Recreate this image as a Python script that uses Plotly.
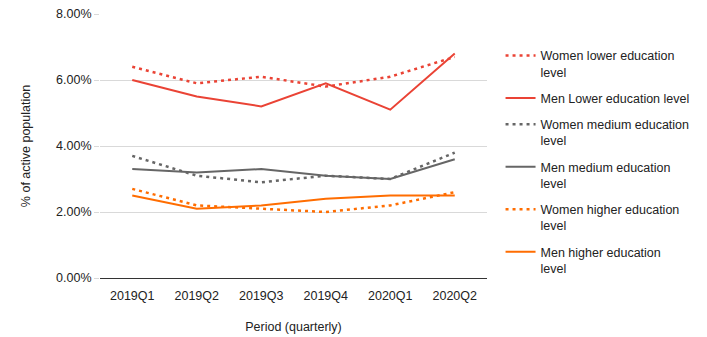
import plotly.graph_objects as go

categories = ["2019Q1", "2019Q2", "2019Q3", "2019Q4", "2020Q1", "2020Q2"]
women_lower = [6.4, 5.9, 6.1, 5.8, 6.1, 6.7]
men_lower = [6.0, 5.5, 5.2, 5.9, 5.1, 6.8]
women_medium = [3.7, 3.1, 2.9, 3.1, 3.0, 3.8]
men_medium = [3.3, 3.2, 3.3, 3.1, 3.0, 3.6]
women_higher = [2.7, 2.2, 2.1, 2.0, 2.2, 2.6]
men_higher = [2.5, 2.1, 2.2, 2.4, 2.5, 2.5]

names = [
    "Women lower education<br>level",
    "Men Lower education level",
    "Women medium education<br>level",
    "Men medium education<br>level",
    "Women higher education<br>level",
    "Men higher education<br>level",
]
series = [women_lower, men_lower, women_medium, men_medium, women_higher, men_higher]
colors = ["#EA4335", "#EA4335", "#666666", "#666666", "#FF6D01", "#FF6D01"]
dashes = ["3px,4px", "solid", "3px,4px", "solid", "3px,4px", "solid"]

fig = go.Figure()
for i, (n, s, c, d) in enumerate(zip(names, series, colors, dashes)):
    fig.add_trace(go.Scatter(
        x=categories, y=[v / 100 for v in s], name=n, mode="lines",
        legendgroup=f"g{i}",
        line=dict(color=c, width=2.5 if d != "solid" else 2, dash=d),
    ))

fig.update_layout(
    width=707, height=337,
    margin=dict(l=100, r=205, t=14, b=59),
    paper_bgcolor="white", plot_bgcolor="white",
    font=dict(family="Liberation Sans, Arial, sans-serif", size=12.5, color="#222222"),
    legend=dict(x=1.035, y=0.898, xanchor="left", yanchor="top", valign="top",
                font=dict(size=12.5, color="#222222"), tracegroupgap=7),
    xaxis=dict(
        title=dict(text="Period (quarterly)", font=dict(size=12.5), standoff=20),
        showgrid=False, showline=False, ticks="outside", ticklen=6,
        tickcolor="rgba(0,0,0,0)", automargin=False,
        range=[-0.5, 5.5], tickfont=dict(size=12.5),
    ),
    yaxis=dict(
        title=dict(text="% of active population", font=dict(size=12.5), standoff=22),
        range=[0, 0.08], dtick=0.02, tickformat=".2%", automargin=False,
        showgrid=True, gridcolor="#D9D9D9", gridwidth=1,
        ticks="outside", ticklen=5, tickcolor="#D9D9D9",
        zeroline=True, zerolinecolor="#333333", zerolinewidth=1,
        tickfont=dict(size=12.5),
    ),
)

fig.write_html("out.html", config={"displayModeBar": False},
               post_script="document.body.style.margin='0';")
